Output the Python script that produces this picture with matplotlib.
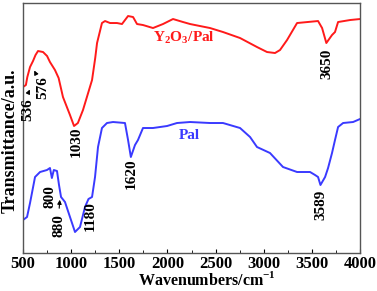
import numpy as np
import matplotlib
matplotlib.use("Agg")
import matplotlib.pyplot as plt

plt.rcParams['font.family'] = ['Liberation Serif', 'DejaVu Serif']
plt.rcParams['font.weight'] = 'bold'
plt.rcParams['mathtext.fontset'] = 'custom'
plt.rcParams['mathtext.rm'] = 'Liberation Serif:bold'
plt.rcParams['mathtext.bf'] = 'Liberation Serif:bold'

# spectra (arbitrary transmittance units)
wn_y2o3 = [500, 530, 545, 573, 604, 630, 656, 708, 750, 780, 832, 870, 915, 988, 1030,
           1070, 1123, 1217, 1250, 1269, 1320, 1352, 1404, 1476, 1528, 1591, 1643, 1684,
           1746, 1850, 1954, 2058, 2162, 2235, 2338, 2442, 2577, 2754, 2930, 3034, 3117,
           3169, 3242, 3346, 3564, 3606, 3650, 3709, 3740, 3772, 3897, 4000]
tr_y2o3 = [166, 168, 176, 186, 192, 198, 202, 201, 197, 191, 183, 175, 156, 138, 127,
           130, 143, 173, 195, 210, 230, 232, 230, 230, 229, 237, 236, 229,
           228, 225, 229, 234, 231, 229, 227, 225, 221, 215, 206, 201, 200,
           203, 213, 230, 232, 225, 210, 218, 221, 231, 233, 234]

wn_pal = [500, 542, 573, 625, 677, 749, 780, 800, 820, 853, 874, 895, 936, 988, 1040,
          1092, 1144, 1180, 1217, 1248, 1279, 1320, 1372, 1435, 1559, 1591, 1620, 1663,
          1694, 1746, 1850, 1996, 2099, 2235, 2442, 2577, 2754, 2858, 2930, 3065, 3200,
          3346, 3481, 3533, 3564, 3589, 3637, 3668, 3709, 3740, 3772, 3824, 3928, 4000]
tr_pal = [33, 36, 50, 76, 81, 83, 85, 75, 83, 82, 68, 56, 51, 36, 21,
          26, 46, 54, 56, 76, 106, 125, 130, 131, 130, 113, 96, 108,
          113, 125, 125, 127, 130, 131, 130, 130, 125, 116, 106, 100, 86,
          81, 81, 78, 76, 68, 76, 85, 100, 113, 126, 130, 131, 134]

peak_labels = ['536', '576', '1030', '3650', '1620', '800', '880', '1180', '3589']
peak_x = [552, 708, 1050, 3657, 1622, 780, 874, 1196, 3595]
peak_y = [143, 165, 111, 189, 79, 56, 27, 37, 48]

fig = plt.figure(figsize=(3.77, 2.91), dpi=100)
ax = fig.add_axes([0.061, 0.1306, 0.894, 0.859])

ax.plot(wn_y2o3, tr_y2o3, color='#ff1a1a', lw=1.4)
ax.plot(wn_pal, tr_pal, color='#3a3aff', lw=1.4)

ax.text(2172, 215, 'Y$_2$O$_3$/Pal', color='#ff1a1a', fontsize=11,
        fontweight='bold', ha='center', va='center')
ax.text(2224, 118, 'Pal', color='#3a3aff', fontsize=11,
        fontweight='bold', ha='center', va='center')

for lab, x, y in zip(peak_labels, peak_x, peak_y):
    ax.text(x, y, lab, rotation=90, fontsize=11, fontweight='bold',
            ha='center', va='center')

arrow = dict(arrowstyle='-|>', color='black', lw=0.8, mutation_scale=6)
ax.annotate('', xy=(583, 166), xytext=(545, 158), arrowprops=arrow)
ax.annotate('', xy=(604, 185), xytext=(645, 177), arrowprops=arrow)
ax.annotate('', xy=(884, 56), xytext=(874, 42), arrowprops=arrow)

ax.set_xlim(500, 4000)
ax.set_ylim(0, 250)
ax.set_xticks([500, 1000, 1500, 2000, 2500, 3000, 3500, 4000])
ax.set_xticks(np.arange(750, 4000, 500), minor=True)
ax.set_yticks([])
ax.tick_params(axis='x', which='major', direction='in', length=3, labelsize=12, pad=2)
ax.tick_params(axis='x', which='minor', direction='in', length=2.5)
for lab in ax.get_xticklabels():
    lab.set_fontweight('bold')
for sp in ax.spines.values():
    sp.set_color('#555555')
    sp.set_linewidth(1.0)

ax.set_xlabel('Wavenumbers/cm$^{-1}$', fontsize=11.5, fontweight='bold', va='center')
ax.xaxis.set_label_coords(0.546, -0.108)
ax.set_ylabel('Transmittance/a.u.', fontsize=13, fontweight='bold')
ax.yaxis.set_label_coords(-0.012, 0.45)

fig.savefig('out.png', dpi=100)
